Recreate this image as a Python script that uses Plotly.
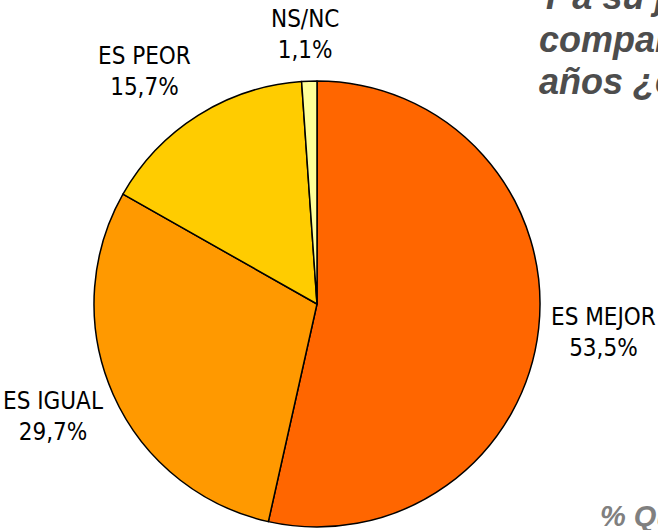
import math
import plotly.graph_objects as go

# Survey answers (share of respondents, %)
categories = ["ES MEJOR", "ES IGUAL", "ES PEOR", "NS/NC"]
values = [53.5, 29.7, 15.7, 1.1]
colors = ["#FF6600", "#FF9900", "#FFCC00", "#FFFF99"]

title_lines = [
    "Y a su juicio, la situación económica actual,",
    "comparada con la de hace cinco",
    "años ¿es mejor, igual o peor?",
]
footer = "% Que opina"

W, H = 658, 530
cx, cy, r = 317, 304, 223  # pie centre and radius in pixels

fig = go.Figure(
    go.Pie(
        labels=categories,
        values=values,
        sort=False,
        direction="clockwise",
        rotation=0,
        marker=dict(colors=colors, line=dict(color="#000000", width=1.5)),
        textinfo="none",
        hoverinfo="label+percent",
        showlegend=False,
        domain=dict(
            x=[(cx - r) / W, (cx + r) / W],
            y=[1 - (cy + r) / H, 1 - (cy - r) / H],
        ),
    )
)

# Outside labels: (radial factor, angular nudge in degrees) per slice
label_place = [(1.29, -0.7), (1.287, 0.9), (1.30, -4.4), (1.21, -0.6)]
label_font = dict(family="DejaVu Sans Condensed, Liberation Sans Narrow, Arial Narrow, sans-serif",
                  size=24, color="#000000")

total = sum(values)
cum = 0.0
for name, v, (k, nudge) in zip(categories, values, label_place):
    mid = (cum + v / 2) / total * 2 * math.pi + math.radians(nudge)
    cum += v
    px = cx + k * r * math.sin(mid)
    py = cy - k * r * math.cos(mid)
    pct = f"{v:.1f}".replace(".", ",") + "%"
    fig.add_annotation(
        x=px / W, y=1 - py / H, xref="paper", yref="paper",
        text=f"{name}<br>{pct}", showarrow=False,
        xanchor="center", yanchor="middle", align="center",
        font=label_font,
    )

# Question title, one annotation per line (runs past the right edge)
title_font = dict(family="Liberation Sans, Arial, sans-serif", size=36, color="#4D4D4D")
for i, line in enumerate(title_lines):
    baseline = 10 + 42.5 * i
    fig.add_annotation(
        x=537 / W, y=1 - (baseline + 9) / H, xref="paper", yref="paper",
        text=f"<b><i>{line}</i></b>",
        showarrow=False, xanchor="left", yanchor="bottom", align="left",
        font=title_font,
    )

fig.add_annotation(
    x=598 / W, y=1 - (525 + 9) / H, xref="paper", yref="paper",
    text=f"<b><i>{footer}</i></b>",
    showarrow=False, xanchor="left", yanchor="bottom", align="left",
    font=dict(family="Liberation Sans, Arial, sans-serif", size=29, color="#808080"),
)

fig.update_layout(
    width=W, height=H,
    margin=dict(l=0, r=0, t=0, b=0),
    paper_bgcolor="#FFFFFF",
    plot_bgcolor="#FFFFFF",
)

fig.write_html("out.html")
